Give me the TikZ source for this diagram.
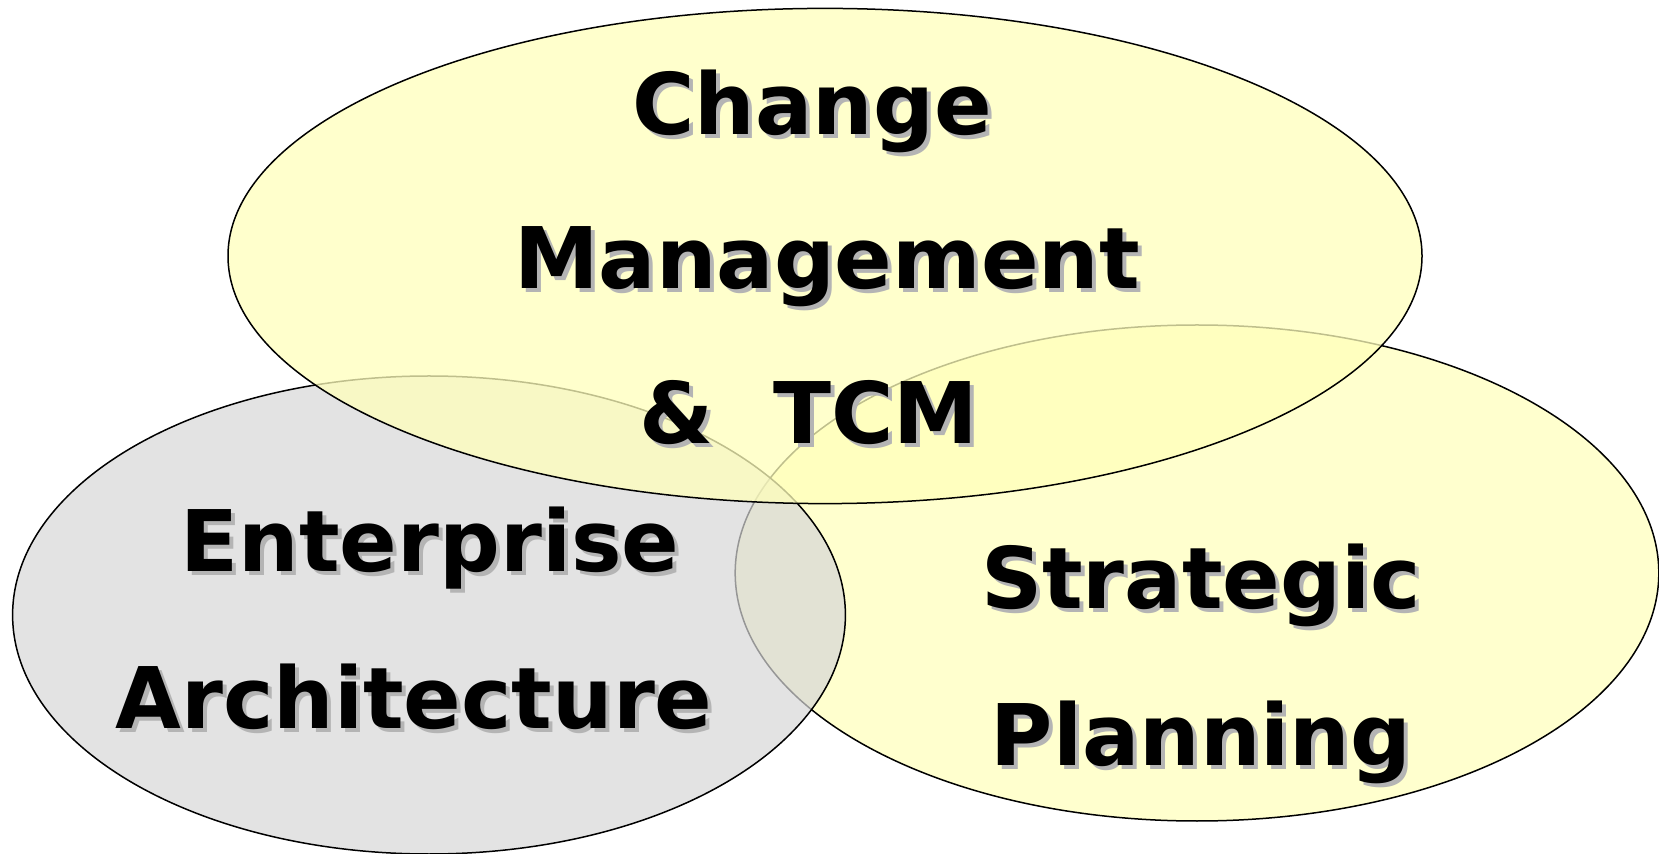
\documentclass[tikz,border=0pt]{standalone}
\usepackage{fontspec}
\setmainfont{DejaVu Sans}
\definecolor{ylw}{RGB}{255,255,187}
\definecolor{ylwB}{RGB}{255,255,206}
\definecolor{gry}{RGB}{215,215,215}
\definecolor{shd}{RGB}{180,180,180}
\newcommand{\shadowed}[1]{\rlap{\kern2pt\raisebox{-2pt}{\textcolor{shd}{#1}}}#1}
\tikzset{
  venn/.style={draw=black, line width=0.75pt},
  lbl/.style={anchor=base, inner sep=0pt, font=\fontsize{42.5}{50}\selectfont\bfseries, text=black},
}
\begin{document}
\begin{tikzpicture}[x=0.5pt,y=-0.5pt]
\useasboundingbox (0,0) rectangle (1659,854);
% ellipses, bottom to top
\path[venn, fill=ylwB] (1197,573) ellipse [x radius=230.9pt, y radius=124pt];
\path[venn, fill=gry, fill opacity=0.7] (429,615) ellipse [x radius=208.2pt, y radius=119.5pt];
\path[venn, fill=ylw, fill opacity=0.75] (825,256) ellipse [x radius=298.5pt, y radius=123.8pt];
% labels with drop shadow
\node[lbl] (t1) at (812,135) {\shadowed{Change}};
\node[lbl] (t2) at (827,289) {\shadowed{Management}};
\node[lbl] (t3) at (809,444) {\shadowed{\&\ \ TCM}};
\node[lbl] (t4) at (430,572) {\shadowed{Enterprise}};
\node[lbl] (t5) at (414,728) {\shadowed{Architecture}};
\node[lbl] (t6) at (1201,609) {\shadowed{Strategic}};
\node[lbl] (t7) at (1201,765) {\shadowed{Planning}};
\end{tikzpicture}
\end{document}
